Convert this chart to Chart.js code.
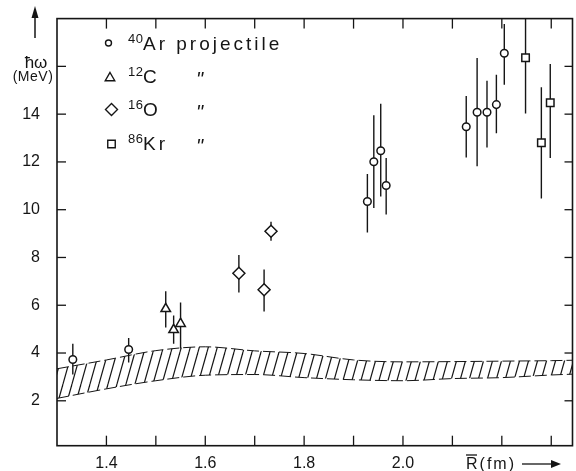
<!DOCTYPE html>
<html>
<head>
<meta charset="utf-8">
<script src="https://cdn.jsdelivr.net/npm/chart.js@4.4.0/dist/chart.umd.min.js"></script>
<style>
  html, body { margin: 0; padding: 0; background: #fff; overflow: hidden; }
  #wrap { width: 580px; height: 471px; }
</style>
</head>
<body>
<div id="wrap"><canvas id="chart" width="580" height="471"></canvas></div>
<script>
// Mean radius R (fm) vs hbar-omega (MeV)
const arR  = [1.332, 1.445, 1.928, 1.941, 1.955, 1.966, 2.128, 2.150, 2.170, 2.189, 2.205];
const arW  = [3.73, 4.15, 10.34, 12.01, 12.47, 11.01, 13.47, 14.08, 14.08, 14.40, 16.55];
const arLo = [3.10, 3.60, 9.05, 10.07, 10.55, 9.80, 12.19, 11.82, 12.60, 13.20, 15.23];
const arHi = [4.39, 4.63, 11.49, 13.95, 14.44, 12.16, 14.76, 16.35, 15.40, 15.65, 17.77];

const cR  = [1.520, 1.536, 1.550];
const cW  = [5.85, 4.97, 5.23];
const cLo = [5.07, 4.39, 4.19];
const cHi = [6.59, 5.57, 6.12];

const oR  = [1.668, 1.719, 1.733];
const oW  = [7.34, 6.65, 9.10];
const oLo = [6.53, 5.74, 8.70];
const oHi = [8.10, 7.50, 9.50];

const krR  = [2.248, 2.280, 2.298];
const krW  = [16.36, 12.80, 14.48];
const krLo = [14.03, 10.47, 12.16];
const krHi = [18.70, 15.13, 16.10];

// hatched band (theory)
const bandR  = [1.30, 1.40, 1.50, 1.60, 1.70, 1.80, 1.90, 2.00, 2.10, 2.20, 2.30, 2.35];
const bandHi = [3.34, 3.71, 4.10, 4.26, 4.09, 3.98, 3.71, 3.63, 3.64, 3.66, 3.68, 3.70];
const bandLo = [2.10, 2.50, 2.84, 3.07, 3.10, 2.97, 2.88, 2.84, 2.93, 2.97, 3.08, 3.12];

// ticks
const xTicks = [1.4, 1.5, 1.6, 1.7, 1.8, 1.9, 2.0, 2.1, 2.2, 2.3];
const xLabels = ['1.4', '1.6', '1.8', '2.0'];
const yTicks = [2, 4, 6, 8, 10, 12, 14, 16];
const yLabels = ['2', '4', '6', '8', '10', '12', '14'];

const INK = '#151515';
const FONT = '"Liberation Sans", Arial, sans-serif';

// hatch pattern "/"
function hatch() {
    const w = 9, h = 32;
    const c = document.createElement('canvas');
    c.width = w; c.height = h;
    const g = c.getContext('2d');
    g.strokeStyle = INK;
    g.lineWidth = 1.2;
    for (const x0 of [-w, 0, w]) {
        g.beginPath();
        g.moveTo(x0, h);
        g.lineTo(x0 + w, 0);
        g.stroke();
    }
    return g.createPattern(c, 'repeat');
}

const pts = (xs, ys) => xs.map((v, i) => ({ x: v, y: ys[i] }));

// error bars, drawn just before each point set
const errorBars = {
    id: 'errorBars',
    beforeDatasetDraw(chart, args) {
        const ds = chart.data.datasets[args.index];
        if (!ds.errLo) return;
        const { ctx, chartArea: a, scales: { x, y } } = chart;
        ctx.save();
        ctx.beginPath();
        ctx.rect(a.left, a.top, a.right - a.left, a.bottom - a.top);
        ctx.clip();
        ctx.strokeStyle = INK;
        ctx.lineWidth = 1.4;
        ds.data.forEach((p, i) => {
            const px = x.getPixelForValue(p.x);
            ctx.beginPath();
            ctx.moveTo(px, y.getPixelForValue(ds.errLo[i]));
            ctx.lineTo(px, y.getPixelForValue(ds.errHi[i]));
            ctx.stroke();
        });
        ctx.restore();
    }
};

// frame, inward ticks, axis titles and the hand-made legend
const decor = {
    id: 'decor',
    afterDraw(chart) {
        const { ctx, chartArea: a, scales: { x, y } } = chart;
        const line = (x1, y1, x2, y2) => { ctx.beginPath(); ctx.moveTo(x1, y1); ctx.lineTo(x2, y2); ctx.stroke(); };
        ctx.save();
        ctx.strokeStyle = INK;
        ctx.fillStyle = INK;
        ctx.lineWidth = 1.6;
        ctx.strokeRect(a.left, a.top, a.right - a.left, a.bottom - a.top);
        ctx.lineWidth = 1.3;
        xTicks.forEach(v => {
            const px = x.getPixelForValue(v);
            line(px, a.bottom, px, a.bottom - 10);
            line(px, a.top, px, a.top + 10);
        });
        yTicks.forEach(v => {
            const py = y.getPixelForValue(v);
            line(a.left, py, a.left + 9, py);
            line(a.right, py, a.right - 8, py);
        });

        // y title
        const p16 = y.getPixelForValue(16);
        ctx.textAlign = 'center';
        ctx.textBaseline = 'middle';
        ctx.font = '17px ' + FONT;
        ctx.fillText('ħω', 36, p16 - 3);
        ctx.font = '14px ' + FONT;
        ctx.letterSpacing = '0.5px';
        ctx.fillText('(MeV)', 33, p16 + 11);
        ctx.letterSpacing = '0px';
        ctx.lineWidth = 1.5;
        line(35, 38, 35, 14);
        ctx.beginPath();
        ctx.moveTo(35, 6); ctx.lineTo(31.5, 18); ctx.lineTo(38.5, 18); ctx.closePath();
        ctx.fill();

        // x title
        ctx.textAlign = 'left';
        ctx.textBaseline = 'alphabetic';
        ctx.font = '16px ' + FONT;
        ctx.letterSpacing = '2px';
        ctx.fillText('R(fm)', 466, 469);
        ctx.letterSpacing = '0px';
        ctx.lineWidth = 1.3;
        line(466, 455, 477, 455);
        line(522, 464, 553, 464);
        ctx.beginPath();
        ctx.moveTo(561, 464); ctx.lineTo(551, 460); ctx.lineTo(551, 468); ctx.closePath();
        ctx.fill();

        // legend
        const rows = [
            { style: 'circle', r: 3, mx: 108.5, my: 43, sup: '40', el: 'Ar projectile', base: 50, ditto: false },
            { style: 'triangle', r: 5.5, mx: 110, my: 78, sup: '12', el: 'C', base: 83, ditto: true },
            { style: 'rectRot', r: 6, mx: 111.5, my: 109.5, sup: '16', el: 'O', base: 116, ditto: true },
            { style: 'rect', r: 5.3, mx: 111.5, my: 144, sup: '86', el: 'Kr', base: 150, ditto: true }
        ];
        rows.forEach(row => {
            ctx.fillStyle = '#fff';
            ctx.strokeStyle = INK;
            ctx.lineWidth = 1.4;
            Chart.helpers.drawPoint(ctx, { pointStyle: row.style, radius: row.r, rotation: 0, borderWidth: 1.4 }, row.mx, row.my);
            ctx.fillStyle = INK;
            ctx.font = '13px ' + FONT;
            ctx.letterSpacing = '0.5px';
            ctx.fillText(row.sup, 128, row.base - 7);
            ctx.font = '19px ' + FONT;
            ctx.letterSpacing = '3px';
            ctx.fillText(row.el, 143, row.base);
            ctx.letterSpacing = '0px';
            if (row.ditto) {
                ctx.font = 'italic 20px ' + FONT;
                ctx.fillText('"', 196, row.base + 3);
            }
        });
        ctx.restore();
    }
};

const marker = {
    pointBackgroundColor: '#fff',
    pointBorderColor: INK,
    pointBorderWidth: 1.5,
    pointHoverRadius: 0,
    showLine: false,
    order: 0
};

new Chart(document.getElementById('chart'), {
    type: 'scatter',
    data: {
        datasets: [
            {
                type: 'line', label: 'band high', data: pts(bandR, bandHi),
                borderColor: INK, borderWidth: 1, borderDash: [12, 4],
                backgroundColor: hatch(), fill: '+1',
                pointRadius: 0, tension: 0.4, cubicInterpolationMode: 'monotone', order: 10
            },
            {
                type: 'line', label: 'band low', data: pts(bandR, bandLo),
                borderColor: INK, borderWidth: 1, borderDash: [12, 4],
                fill: false, pointRadius: 0, tension: 0.4, cubicInterpolationMode: 'monotone', order: 11
            },
            { label: '40Ar', data: pts(arR, arW), errLo: arLo, errHi: arHi, pointStyle: 'circle', pointRadius: 3.8, ...marker },
            { label: '12C', data: pts(cR, cW), errLo: cLo, errHi: cHi, pointStyle: 'triangle', pointRadius: 5.5, ...marker },
            { label: '16O', data: pts(oR, oW), errLo: oLo, errHi: oHi, pointStyle: 'rectRot', pointRadius: 6, ...marker },
            { label: '86Kr', data: pts(krR, krW), errLo: krLo, errHi: krHi, pointStyle: 'rect', pointRadius: 5.3, ...marker }
        ]
    },
    options: {
        responsive: false,
        animation: false,
        layout: { padding: { left: 0, top: 5, right: 3, bottom: 0 } },
        plugins: {
            legend: { display: false },
            tooltip: { enabled: false }
        },
        scales: {
            x: {
                type: 'linear', min: 1.3, max: 2.343,
                grid: { display: false },
                border: { display: false },
                afterBuildTicks: s => { s.ticks = xTicks.map(v => ({ value: v })); },
                afterFit: s => { s.height = 25.3; },
                ticks: {
                    autoSkip: false, maxRotation: 0, padding: 0,
                    color: INK, font: { family: FONT, size: 16 },
                    callback: v => xLabels.includes(v.toFixed(1)) ? v.toFixed(1) : ''
                }
            },
            y: {
                min: 0.12, max: 18,
                grid: { display: false },
                border: { display: false },
                afterBuildTicks: s => { s.ticks = yTicks.map(v => ({ value: v })); },
                afterFit: s => { s.width = 57; },
                ticks: {
                    autoSkip: false, padding: 9,
                    color: INK, font: { family: FONT, size: 16 },
                    callback: v => yLabels.includes(String(v)) ? String(v) : ''
                }
            }
        }
    },
    plugins: [errorBars, decor]
});
</script>
</body>
</html>
